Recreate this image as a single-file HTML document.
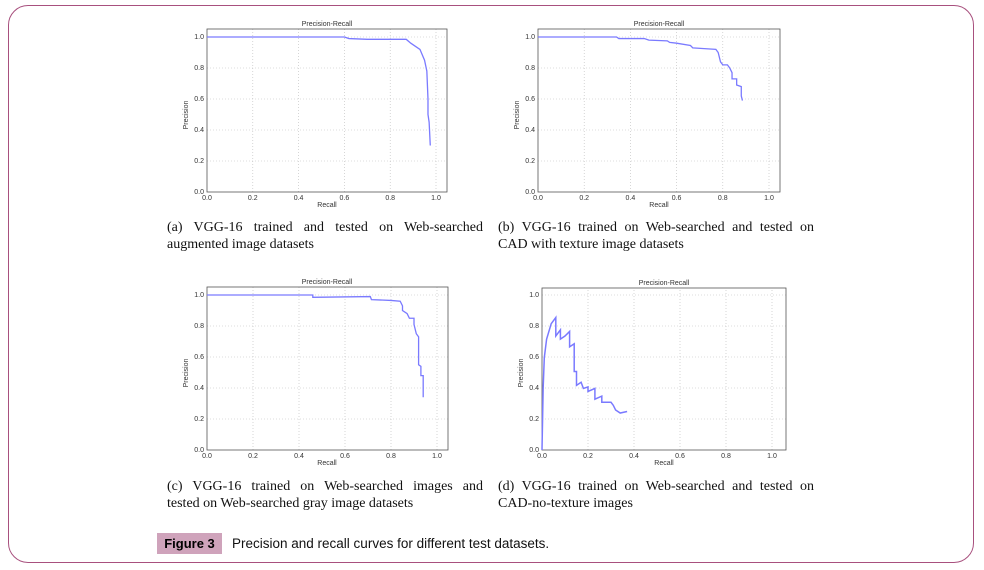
<!DOCTYPE html>
<html><head><meta charset="utf-8"><style>
body{margin:0;width:984px;height:570px;background:#fff;position:relative;overflow:hidden}
.frame{position:absolute;left:8px;top:5px;width:966px;height:558px;border:1.5px solid #a8507e;border-radius:20px;box-sizing:border-box}
.cap{position:absolute;width:316px;font-family:"Liberation Serif",serif;font-size:14px;line-height:17px;color:#111;white-space:nowrap}
.cap .l1{text-align:justify;text-align-last:justify;white-space:normal}
.fig{position:absolute;left:157px;top:533px;width:65px;height:21px;background:#cfa3bb;font-family:"Liberation Sans",sans-serif;font-weight:bold;font-size:13px;line-height:21px;text-align:center;white-space:nowrap}
.ft{position:absolute;left:232px;top:533px;font-family:"Liberation Sans",sans-serif;font-size:13.5px;line-height:21px;color:#111;white-space:nowrap}
svg text{font-family:"Liberation Sans",sans-serif;fill:#333}
</style></head><body>
<div class="frame"></div>
<svg width="984" height="570" style="position:absolute;left:0;top:0">
<!-- Plot a -->
<g transform="translate(207,192)">
<g stroke="#bbb" stroke-width="0.6" stroke-dasharray="1,2">
<line x1="0" y1="-31" x2="240" y2="-31"/><line x1="0" y1="-62" x2="240" y2="-62"/><line x1="0" y1="-93" x2="240" y2="-93"/><line x1="0" y1="-124" x2="240" y2="-124"/><line x1="0" y1="-155" x2="240" y2="-155"/>
<line x1="45.8" y1="0" x2="45.8" y2="-163"/><line x1="91.6" y1="0" x2="91.6" y2="-163"/><line x1="137.4" y1="0" x2="137.4" y2="-163"/><line x1="183.2" y1="0" x2="183.2" y2="-163"/><line x1="229" y1="0" x2="229" y2="-163"/>
</g>
<rect x="0" y="-163" width="240" height="163" fill="none" stroke="#555" stroke-width="0.8"/>
<polyline transform="scale(229,-155)" vector-effect="non-scaling-stroke" fill="none" stroke="#7a7aff" stroke-width="1.3" points="0,1 0.6,1 0.62,0.99 0.7,0.985 0.87,0.985 0.89,0.96 0.93,0.92 0.95,0.85 0.96,0.78 0.965,0.6 0.965,0.5 0.97,0.45 0.975,0.3"/>
<g font-size="7" text-anchor="end"><text x="-3" y="2">0.0</text><text x="-3" y="-29">0.2</text><text x="-3" y="-60">0.4</text><text x="-3" y="-91">0.6</text><text x="-3" y="-122">0.8</text><text x="-3" y="-153">1.0</text></g>
<g font-size="7" text-anchor="middle"><text x="0" y="8">0.0</text><text x="45.8" y="8">0.2</text><text x="91.6" y="8">0.4</text><text x="137.4" y="8">0.6</text><text x="183.2" y="8">0.8</text><text x="229" y="8">1.0</text>
<text x="120" y="15">Recall</text><text x="120" y="-166">Precision-Recall</text>
<text transform="translate(-19,-77) rotate(-90)">Precision</text></g>
</g>
<!-- Plot b -->
<g transform="translate(538,192)">
<g stroke="#bbb" stroke-width="0.6" stroke-dasharray="1,2">
<line x1="0" y1="-31" x2="242" y2="-31"/><line x1="0" y1="-62" x2="242" y2="-62"/><line x1="0" y1="-93" x2="242" y2="-93"/><line x1="0" y1="-124" x2="242" y2="-124"/><line x1="0" y1="-155" x2="242" y2="-155"/>
<line x1="46.2" y1="0" x2="46.2" y2="-163"/><line x1="92.4" y1="0" x2="92.4" y2="-163"/><line x1="138.6" y1="0" x2="138.6" y2="-163"/><line x1="184.8" y1="0" x2="184.8" y2="-163"/><line x1="231" y1="0" x2="231" y2="-163"/>
</g>
<rect x="0" y="-163" width="242" height="163" fill="none" stroke="#555" stroke-width="0.8"/>
<polyline transform="scale(231,-155)" vector-effect="non-scaling-stroke" fill="none" stroke="#7a7aff" stroke-width="1.3" points="0,1 0.34,1 0.35,0.99 0.46,0.99 0.48,0.98 0.56,0.975 0.57,0.965 0.6,0.96 0.66,0.945 0.67,0.93 0.72,0.925 0.77,0.92 0.78,0.9 0.79,0.84 0.8,0.82 0.82,0.82 0.83,0.8 0.84,0.77 0.84,0.73 0.86,0.73 0.86,0.69 0.88,0.68 0.88,0.62 0.885,0.59"/>
<g font-size="7" text-anchor="end"><text x="-3" y="2">0.0</text><text x="-3" y="-29">0.2</text><text x="-3" y="-60">0.4</text><text x="-3" y="-91">0.6</text><text x="-3" y="-122">0.8</text><text x="-3" y="-153">1.0</text></g>
<g font-size="7" text-anchor="middle"><text x="0" y="8">0.0</text><text x="46.2" y="8">0.2</text><text x="92.4" y="8">0.4</text><text x="138.6" y="8">0.6</text><text x="184.8" y="8">0.8</text><text x="231" y="8">1.0</text>
<text x="121" y="15">Recall</text><text x="121" y="-166">Precision-Recall</text>
<text transform="translate(-19,-77) rotate(-90)">Precision</text></g>
</g>
<!-- Plot c -->
<g transform="translate(207,450)">
<g stroke="#bbb" stroke-width="0.6" stroke-dasharray="1,2">
<line x1="0" y1="-31" x2="241" y2="-31"/><line x1="0" y1="-62" x2="241" y2="-62"/><line x1="0" y1="-93" x2="241" y2="-93"/><line x1="0" y1="-124" x2="241" y2="-124"/><line x1="0" y1="-155" x2="241" y2="-155"/>
<line x1="46" y1="0" x2="46" y2="-163"/><line x1="92" y1="0" x2="92" y2="-163"/><line x1="138" y1="0" x2="138" y2="-163"/><line x1="184" y1="0" x2="184" y2="-163"/><line x1="230" y1="0" x2="230" y2="-163"/>
</g>
<rect x="0" y="-163" width="241" height="163" fill="none" stroke="#555" stroke-width="0.8"/>
<polyline transform="scale(230,-155)" vector-effect="non-scaling-stroke" fill="none" stroke="#7a7aff" stroke-width="1.3" points="0,1 0.46,1 0.46,0.985 0.71,0.99 0.715,0.97 0.8,0.965 0.84,0.96 0.85,0.93 0.85,0.9 0.87,0.88 0.88,0.85 0.9,0.85 0.9,0.81 0.91,0.75 0.92,0.73 0.92,0.55 0.93,0.54 0.93,0.48 0.94,0.48 0.94,0.34"/>
<g font-size="7" text-anchor="end"><text x="-3" y="2">0.0</text><text x="-3" y="-29">0.2</text><text x="-3" y="-60">0.4</text><text x="-3" y="-91">0.6</text><text x="-3" y="-122">0.8</text><text x="-3" y="-153">1.0</text></g>
<g font-size="7" text-anchor="middle"><text x="0" y="8">0.0</text><text x="46" y="8">0.2</text><text x="92" y="8">0.4</text><text x="138" y="8">0.6</text><text x="184" y="8">0.8</text><text x="230" y="8">1.0</text>
<text x="120" y="15">Recall</text><text x="120" y="-166">Precision-Recall</text>
<text transform="translate(-19,-77) rotate(-90)">Precision</text></g>
</g>
<!-- Plot d -->
<g transform="translate(542,450)">
<g stroke="#bbb" stroke-width="0.6" stroke-dasharray="1,2">
<line x1="0" y1="-31" x2="244" y2="-31"/><line x1="0" y1="-62" x2="244" y2="-62"/><line x1="0" y1="-93" x2="244" y2="-93"/><line x1="0" y1="-124" x2="244" y2="-124"/><line x1="0" y1="-155" x2="244" y2="-155"/>
<line x1="46" y1="0" x2="46" y2="-162"/><line x1="92" y1="0" x2="92" y2="-162"/><line x1="138" y1="0" x2="138" y2="-162"/><line x1="184" y1="0" x2="184" y2="-162"/><line x1="230" y1="0" x2="230" y2="-162"/>
</g>
<rect x="0" y="-162" width="244" height="162" fill="none" stroke="#555" stroke-width="0.8"/>
<polyline transform="scale(230,-154)" vector-effect="non-scaling-stroke" fill="none" stroke="#7a7aff" stroke-width="1.5" points="0,0 0.005,0.4 0.01,0.6 0.02,0.72 0.04,0.82 0.06,0.86 0.06,0.74 0.07,0.76 0.08,0.78 0.08,0.72 0.1,0.74 0.12,0.77 0.12,0.67 0.14,0.69 0.14,0.51 0.15,0.51 0.15,0.42 0.17,0.44 0.18,0.4 0.2,0.41 0.2,0.38 0.23,0.4 0.23,0.33 0.26,0.35 0.26,0.31 0.3,0.31 0.31,0.29 0.32,0.26 0.34,0.24 0.37,0.25"/>
<g font-size="7" text-anchor="end"><text x="-3" y="2">0.0</text><text x="-3" y="-29">0.2</text><text x="-3" y="-60">0.4</text><text x="-3" y="-91">0.6</text><text x="-3" y="-122">0.8</text><text x="-3" y="-153">1.0</text></g>
<g font-size="7" text-anchor="middle"><text x="0" y="8">0.0</text><text x="46" y="8">0.2</text><text x="92" y="8">0.4</text><text x="138" y="8">0.6</text><text x="184" y="8">0.8</text><text x="230" y="8">1.0</text>
<text x="122" y="15">Recall</text><text x="122" y="-165">Precision-Recall</text>
<text transform="translate(-19,-77) rotate(-90)">Precision</text></g>
</g>
</svg>
<div class="cap" style="left:167px;top:219px"><div class="l1">(a) VGG-16 trained and tested on Web-searched</div><div>augmented image datasets</div></div>
<div class="cap" style="left:498px;top:219px"><div class="l1">(b) VGG-16 trained on Web-searched and tested on</div><div>CAD with texture image datasets</div></div>
<div class="cap" style="left:167px;top:478px"><div class="l1">(c) VGG-16 trained on Web-searched images and</div><div>tested on Web-searched gray image datasets</div></div>
<div class="cap" style="left:498px;top:478px"><div class="l1">(d) VGG-16 trained on Web-searched and tested on</div><div>CAD-no-texture images</div></div>
<div class="fig">Figure 3</div>
<div class="ft">Precision and recall curves for different test datasets.</div>
</body></html>
